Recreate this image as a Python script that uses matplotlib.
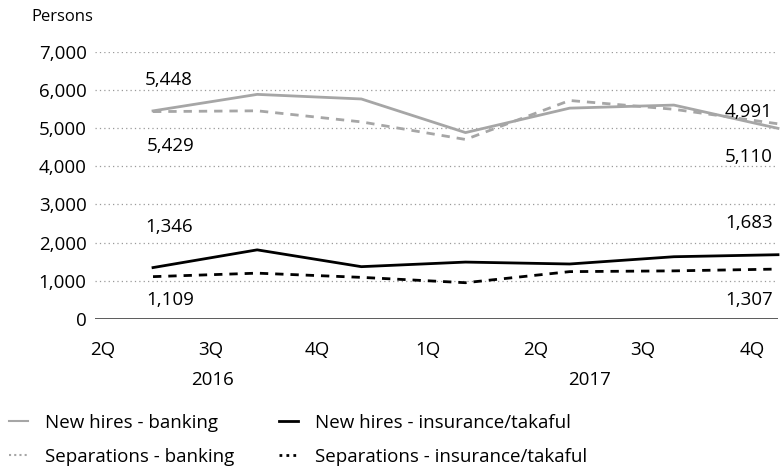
#Persons hired and separated, banking vs insurance/takaful
#quarterly, 2Q 2016 to 4Q 2017

import numpy as np
import matplotlib.pyplot as plt
from matplotlib.lines import Line2D

plt.rcParams['font.family'] = ['Open Sans', 'DejaVu Sans']

quarters = ['2Q', '3Q', '4Q', '1Q', '2Q', '3Q', '4Q']
years = ['2016', '2017']
hires_bank = [5448, 5880, 5760, 4880, 5520, 5600, 4991]
seps_bank = [5429, 5450, 5160, 4700, 5720, 5490, 5110]
hires_ins = [1346, 1810, 1370, 1490, 1440, 1630, 1683]
seps_ins = [1109, 1200, 1090, 950, 1240, 1260, 1307]
yticks = [0, 1000, 2000, 3000, 4000, 5000, 6000, 7000]

grey = '#a6a6a6'
x = np.arange(len(quarters))
fs = 13.5

fig = plt.figure(figsize=(7.82, 4.72), dpi=100)
ax = fig.add_axes([95/782, 1-319/472, (778-95)/782, (319-51.6)/472])

ax.plot(x, hires_bank, color=grey, lw=2, clip_on=False)
ax.plot(x, seps_bank, color=grey, lw=2, ls=(0, (3, 2.5)), clip_on=False)
ax.plot(x, hires_ins, color='black', lw=2, clip_on=False)
ax.plot(x, seps_ins, color='black', lw=2, ls=(0, (3, 2.5)), clip_on=False)

ax.set_xlim(-0.557, 6.0)
ax.set_ylim(0, 7000)
for s in ax.spines.values():
    s.set_visible(False)
for v in yticks[1:]:
    ax.axhline(v, color='#9a9a9a', lw=0.9, ls=(0, (1, 2.5)), zorder=0)
ax.axhline(0, color='#404040', lw=1.2, zorder=0)

ax.set_yticks(yticks)
ax.set_yticklabels(['{:,}'.format(v) for v in yticks], fontsize=fs)
ax.tick_params(axis='y', length=0, pad=6)
ax.set_xticks([])

# quarter and year labels sit left of the data points, as in the original
qpos = [-0.48, 0.55, 1.58, 2.64, 3.67, 4.70, 5.75]
trans = ax.get_xaxis_transform()
for p, q in zip(qpos, quarters):
    ax.text(p, -31/267.4, q, transform=trans, ha='center', va='center', fontsize=fs)
ax.text(0.57, -61/267.4, years[0], transform=trans, ha='center', va='center', fontsize=fs)
ax.text(4.19, -61/267.4, years[1], transform=trans, ha='center', va='center', fontsize=fs)

fig.text(31/782, 1-17/472, 'Persons', ha='left', va='center', fontsize=12)

# value labels at both ends
lab = dict(ha='center', va='center', fontsize=fs)
ax.text(0.15, 6250, '{:,}'.format(hires_bank[0]), **lab)
ax.text(0.17, 4530, '{:,}'.format(seps_bank[0]), **lab)
ax.text(5.72, 5430, '{:,}'.format(hires_bank[-1]), **lab)
ax.text(5.72, 4230, '{:,}'.format(seps_bank[-1]), **lab)
ax.text(0.15, 2420, '{:,}'.format(hires_ins[0]), **lab)
ax.text(0.17, 500, '{:,}'.format(seps_ins[0]), **lab)
ax.text(5.72, 2520, '{:,}'.format(hires_ins[-1]), **lab)
ax.text(5.72, 500, '{:,}'.format(seps_ins[-1]), **lab)

handles = [Line2D([], [], color=grey, lw=1.5),
           Line2D([], [], color=grey, lw=1.5, ls=(0, (1, 1.5))),
           Line2D([], [], color='black', lw=2),
           Line2D([], [], color='black', lw=2, ls=(0, (1, 1.5)))]
labels = ['New hires - banking', 'Separations - banking',
          'New hires - insurance/takaful', 'Separations - insurance/takaful']
fig.legend(handles, labels, ncol=2, loc='lower left', bbox_to_anchor=(-0.01, -0.023),
           frameon=False, fontsize=fs, handlelength=1.0, handletextpad=0.9,
           columnspacing=2.4, labelspacing=0.85)

plt.savefig('out.png', dpi=100)
